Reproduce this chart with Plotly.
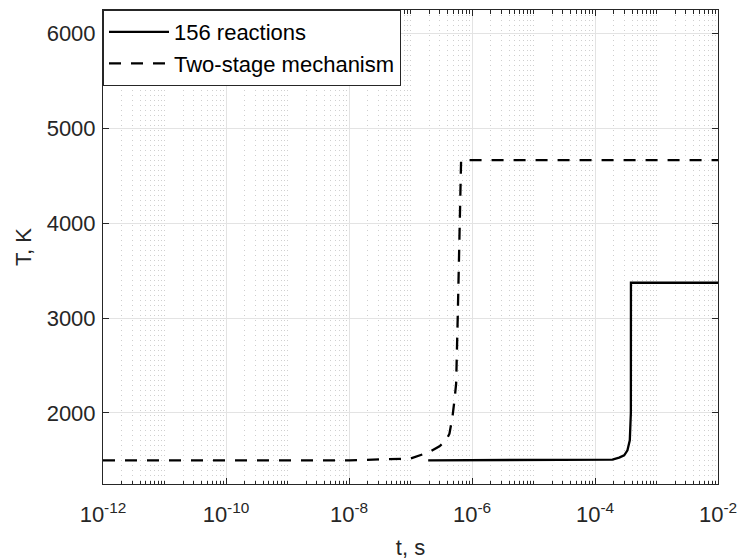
import plotly.graph_objects as go

# ---- data ----
t_156 = [1.94e-7, 1.0e-6, 1.0e-5, 1.17e-4, 1.92e-4, 2.47e-4, 2.98e-4, 3.37e-4, 3.68e-4, 3.83e-4, 3.84e-4, 1.0e-3, 1.0e-2]
T_156 = [1500, 1500, 1500, 1500, 1507, 1528, 1553, 1605, 1711, 2000, 3373, 3373, 3373]

t_two = [1e-12, 1e-10, 1.02e-8, 1.0e-7, 1.40e-7, 2.03e-7, 2.96e-7, 3.80e-7, 4.30e-7, 4.81e-7, 5.18e-7,
         5.52e-7, 5.86e-7, 6.12e-7, 6.37e-7, 6.65e-7, 1e-5, 1e-2]
T_two = [1500, 1500, 1500, 1518, 1553, 1588, 1648, 1711, 1781, 1956, 2132,
         2308, 3010, 3713, 4240, 4666, 4666, 4666]

series_names = ["156 reactions", "Two-stage mechanism"]
x_ticks = [1e-12, 1e-10, 1e-8, 1e-6, 1e-4, 1e-2]
x_tick_labels = ["10<sup>-12</sup>", "10<sup>-10</sup>", "10<sup>-8</sup>",
                 "10<sup>-6</sup>", "10<sup>-4</sup>", "10<sup>-2</sup>"]
y_ticks = [2000, 3000, 4000, 5000, 6000]

FONT = "Liberation Sans, Arial, Helvetica, sans-serif"
AX = "#262626"

fig = go.Figure()
fig.add_trace(go.Scatter(x=t_156, y=T_156, mode="lines", name=series_names[0],
                         line=dict(color="black", width=2.3)))
fig.add_trace(go.Scatter(x=t_two, y=T_two, mode="lines", name=series_names[1],
                         line=dict(color="black", width=2.3, dash="12px,10px")))

fig.update_layout(
    width=740, height=560,
    margin=dict(l=103, r=22, t=10, b=76, autoexpand=False),
    paper_bgcolor="white", plot_bgcolor="white",
    font=dict(family=FONT, size=22, color=AX),
    showlegend=True,
    legend=dict(x=0, y=1, xanchor="left", yanchor="top",
                bgcolor="white", bordercolor=AX, borderwidth=1,
                font=dict(size=22, color="black"), itemwidth=60,
                tracegroupgap=0),
)

fig.update_xaxes(
    type="log", range=[-12, -2], tickvals=x_ticks, ticktext=x_tick_labels,
    showline=True, linecolor=AX, linewidth=1, mirror="ticks",
    ticks="inside", ticklen=6, tickcolor=AX,
    showgrid=True, gridcolor="#e3e3e3", gridwidth=1,
    minor=dict(dtick="D1", ticks="inside", ticklen=3.5, tickcolor=AX,
               showgrid=True, gridcolor="#cfcfcf", griddash="1px,4px", gridwidth=1),
    zeroline=False,
    tickfont=dict(size=22, color=AX),
    ticklabelstandoff=11,
    title=dict(text="t, s", font=dict(size=22, color=AX), standoff=15),
    automargin=False,
)
fig.update_yaxes(
    range=[1250, 6250], tickvals=y_ticks,
    showline=True, linecolor=AX, linewidth=1, mirror="ticks",
    ticks="inside", ticklen=6, tickcolor=AX,
    showgrid=True, gridcolor="#e3e3e3", gridwidth=1,
    zeroline=False,
    tickfont=dict(size=22, color=AX),
    ticklabelstandoff=2,
    title=dict(text="T, K", font=dict(size=22, color=AX), standoff=8),
    automargin=False,
)

# remove the browser's default page margin so the figure fills the 740x560 window
fig.write_html("out.html", config={"displayModeBar": False},
               post_script="document.body.style.margin='0';document.body.style.overflow='hidden';")
